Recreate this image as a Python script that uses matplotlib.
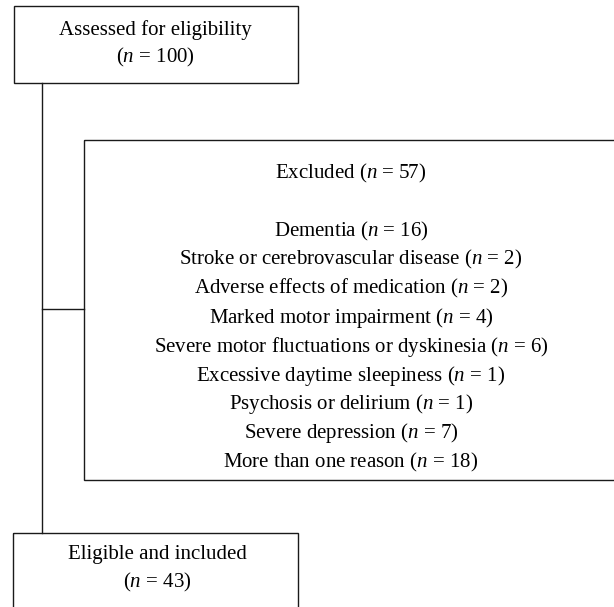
import matplotlib
matplotlib.use("Agg")
import matplotlib.pyplot as plt
from matplotlib.patches import Rectangle

plt.rcParams['font.family'] = ['Liberation Serif', 'DejaVu Serif']
plt.rcParams['mathtext.fontset'] = 'custom'
plt.rcParams['mathtext.rm'] = 'Liberation Serif'
plt.rcParams['mathtext.it'] = 'Liberation Serif:italic'

# ---- data ----
assessed_label = "Assessed for eligibility"
assessed_n = 100
excluded_label = "Excluded"
excluded_n = 57
reasons = ["Dementia", "Stroke or cerebrovascular disease",
           "Adverse effects of medication", "Marked motor impairment",
           "Severe motor fluctuations or dyskinesia",
           "Excessive daytime sleepiness", "Psychosis or delirium",
           "Severe depression", "More than one reason"]
reason_counts = [16, 2, 2, 4, 6, 1, 1, 7, 18]
included_label = "Eligible and included"
included_n = 43

W, H = 614, 607
fig = plt.figure(figsize=(W / 100, H / 100), dpi=100)
ax = fig.add_axes([0, 0, 1, 1])
ax.set_xlim(0, W)
ax.set_ylim(H, 0)
ax.axis('off')

FS = 15
LC = '#1a1a1a'
LW = 1.0

def ntext(n):
    return r"($n$ = %d)" % n

def box(x0, y0, x1, y1):
    ax.add_patch(Rectangle((x0, y0), x1 - x0, y1 - y0, fill=False,
                           edgecolor=LC, linewidth=LW, clip_on=True))

# top box
box(14, 6, 298, 83)
ax.text(155, 30, assessed_label, ha='center', va='center', fontsize=FS)
ax.text(155, 57, ntext(assessed_n), ha='center', va='center', fontsize=FS)

# main vertical line and connector
ax.plot([42, 42], [83, 533], color=LC, lw=LW)
ax.plot([42, 84], [309, 309], color=LC, lw=LW)

# excluded box (right edge beyond figure)
box(84, 140, 620, 480)
cx = 351
ax.text(cx, 173, "%s %s" % (excluded_label, ntext(excluded_n)),
        ha='center', va='center', fontsize=FS)
y0, dy = 231, 28.9
for i, (r, c) in enumerate(zip(reasons, reason_counts)):
    ax.text(cx, y0 + i * dy, "%s %s" % (r, ntext(c)),
            ha='center', va='center', fontsize=FS)

# bottom box (bottom edge beyond figure)
box(13, 533, 298, 620)
ax.text(157, 555, included_label, ha='center', va='center', fontsize=FS)
ax.text(157, 582, ntext(included_n), ha='center', va='center', fontsize=FS)

fig.savefig("out.png", dpi=100)
